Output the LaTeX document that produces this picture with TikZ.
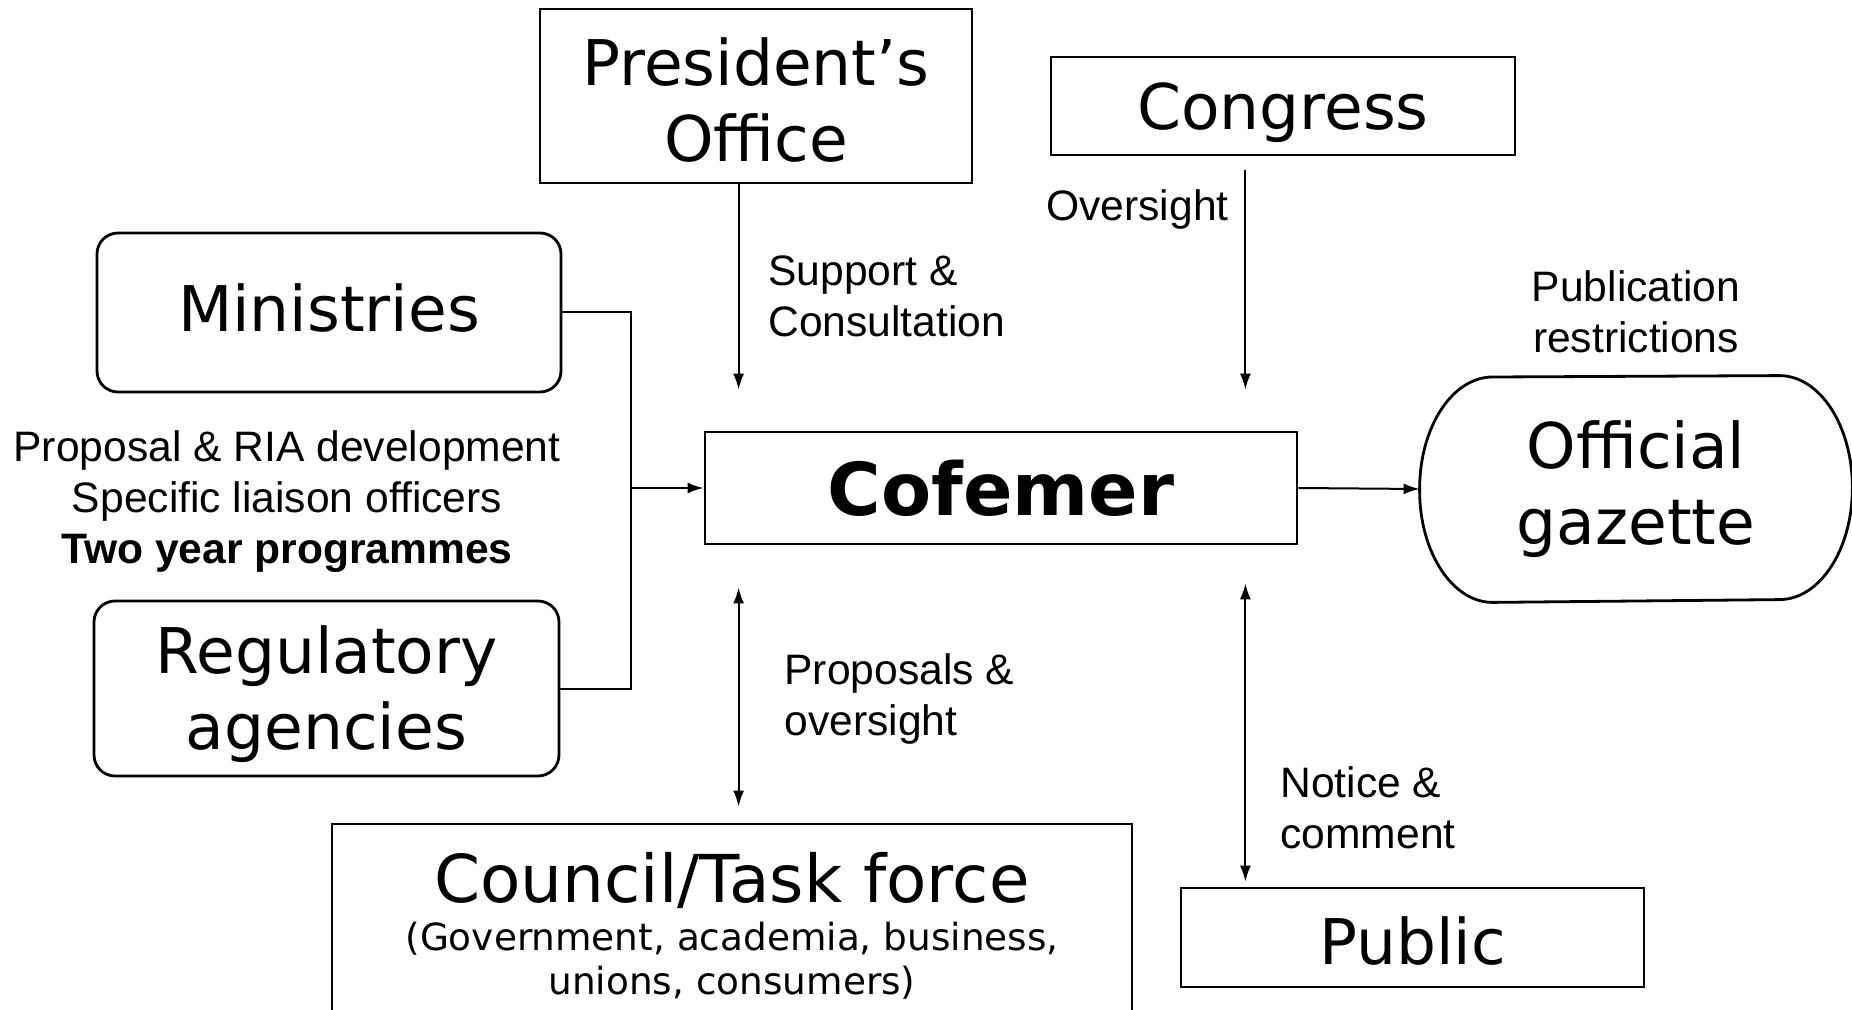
\documentclass[tikz,border=0pt]{standalone}
\usepackage{fontspec}
\setmainfont{DejaVu Sans}
\newfontfamily\labfont{Liberation Sans}
\usetikzlibrary{arrows.meta}

\begin{document}
\begin{tikzpicture}[x=0.5pt, y=-0.5pt,
  box/.style={draw, line width=1.4pt, inner sep=0pt, align=center,
    font=\fontsize{31.5}{38}\selectfont},
  rbox/.style={box, rounded corners=10.5pt},
  lab/.style={inner sep=0pt, font=\labfont\fontsize{21.3}{25.5}\selectfont},
  arr/.style={line width=1pt, -{Latex[length=8pt,width=5.5pt]}},
  dbl/.style={line width=1pt, {Latex[length=8pt,width=5.5pt]}-{Latex[length=8pt,width=5.5pt]}}]
\path[use as bounding box, clip] (0,0) rectangle (1852,1010);
% Boxes
\node[box, minimum width=216pt, minimum height=87pt, text height=66pt] (pres) at (756,96) {President's\\Office};
\node[box, minimum width=232pt, minimum height=49pt, text depth=0pt] (cong) at (1283,106) {Congress};
\node[rbox, minimum width=232pt, minimum height=79.5pt, text depth=5pt] (min) at (329,312.5) {Ministries};
\node[rbox, minimum width=232.5pt, minimum height=87.5pt, text height=68pt] (reg) at (326.5,688.5) {Regulatory\\agencies};
\node[box, minimum width=296pt, minimum height=56pt, font=\fontsize{36.5}{44}\selectfont\bfseries] (cof) at (1001,488) {Cofemer};
\node[box, draw=none, minimum width=215pt, minimum height=112pt] (gaz) at (1636,489) {Official\\gazette};
\draw[line width=1.4pt] (gaz.west)
  arc[start angle=180, end angle=90, x radius=36.5pt, y radius=56pt]
  -- ([xshift=-36.5pt]gaz.north east)
  arc[start angle=90, end angle=-90, x radius=36.5pt, y radius=56pt]
  -- ([xshift=36.5pt]gaz.south west)
  arc[start angle=270, end angle=180, x radius=36.5pt, y radius=56pt] -- cycle;
\node[box, minimum width=400pt, minimum height=102pt, font=\fontsize{18.7}{22}\selectfont] (council) at (732,926)
  {{\fontsize{33}{40}\selectfont Council/Task force}\\[2pt](Government, academia, business,\\unions, consumers)};
\node[box, minimum width=231.5pt, minimum height=49.5pt, text height=27pt] (pub) at (1412.5,937.5) {Public};
% Labels
\node[lab, anchor=west, align=left] (supl) at (768,296) {Support \&\\Consultation};
\node[lab, anchor=east] (ovl) at (1229,209) {Oversight};
\node[lab, align=center] (publ) at (1636,312) {Publication\\restrictions};
\node[lab, align=center] (minl) at (287,502) {Proposal \& RIA development\\Specific liaison officers\\\textbf{Two year programmes}};
\node[lab, anchor=west, align=left] (prol) at (784,699) {Proposals \&\\oversight};
\node[lab, anchor=west, align=left] (notl) at (1280,808) {Notice \&\\comment};
% Connectors
\coordinate (pin) at ([xshift=17.5pt]cof.north west);
\coordinate (cin) at ([xshift=-26.5pt]cof.north east);
\coordinate (pout) at ([xshift=17.5pt]cof.south west);
\coordinate (cout) at ([xshift=-26.5pt]cof.south east);
\coordinate (join) at ([xshift=-36.5pt]cof.west);
\draw[arr, shorten >=20.5pt] (pres.south -| pin) -- (pin);
\draw[arr, shorten <=7pt, shorten >=20.5pt] (cong.south -| cin) -- (cin);
\draw[dbl, shorten <=21pt, shorten >=8pt] (pout) -- (pout |- council.north);
\draw[dbl, shorten <=19pt, shorten >=2.5pt] (cout) -- (cout |- pub.north);
\draw[line width=1pt] (min.east) -| (join);
\draw[line width=1pt] (reg.east) -| (join);
\draw[arr] (join) -- (cof.west);
\draw[arr] (cof.east) -- (gaz.west);
\end{tikzpicture}
\end{document}
